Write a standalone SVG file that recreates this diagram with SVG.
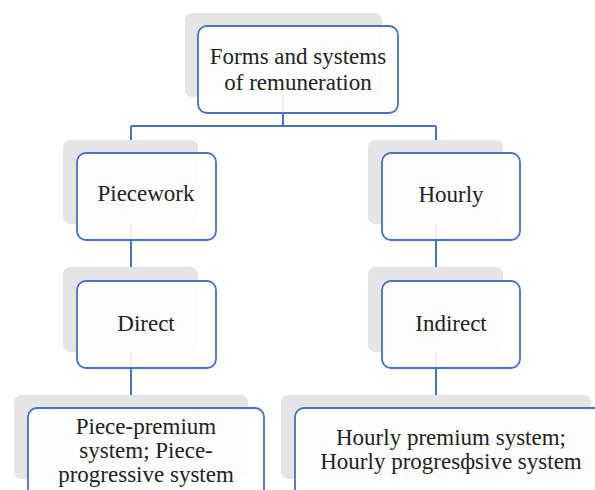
<svg xmlns="http://www.w3.org/2000/svg" width="595" height="490" viewBox="0 0 595 490">
<style>
.sh{fill:#e5e5e5}
.bx{fill:#ffffff;fill-opacity:0.9;stroke:#4472c4;stroke-width:1.8}
.t{font-family:"Liberation Serif","Times New Roman",serif;font-size:23px;fill:#222;text-anchor:middle}
.c{fill:none;stroke:#4472c4;stroke-width:2}
</style>
<rect width="595" height="490" fill="#ffffff"/>
<g id="connectors">
<path class="c" d="M283,97 V126 M131,126 H436 M131,126 V142 M436,126 V142"/>
<path class="c" d="M131,224 V268"/>
<path class="c" d="M436,224 V268"/>
<path class="c" d="M131,352 V396"/>
<path class="c" d="M436,352 V396"/>
</g>
<g id="root">
<rect class="sh" x="185" y="13" width="197" height="84" rx="7"/>
<rect class="bx" x="198" y="26" width="200" height="87" rx="9"/>
<text class="t" x="298" y="64">Forms and systems</text>
<text class="t" x="298" y="90">of remuneration</text>
</g>
<g id="piecework">
<rect class="sh" x="63" y="140" width="135" height="84" rx="7"/>
<rect class="bx" x="77" y="153" width="139" height="87" rx="9"/>
<text class="t" x="146" y="201">Piecework</text>
</g>
<g id="hourly">
<rect class="sh" x="368" y="140" width="135" height="84" rx="7"/>
<rect class="bx" x="382" y="153" width="138" height="87" rx="9"/>
<text class="t" x="451" y="202">Hourly</text>
</g>
<g id="direct">
<rect class="sh" x="63" y="267" width="135" height="85" rx="7"/>
<rect class="bx" x="77" y="281" width="139" height="87" rx="9"/>
<text class="t" x="146" y="331">Direct</text>
</g>
<g id="indirect">
<rect class="sh" x="368" y="267" width="135" height="85" rx="7"/>
<rect class="bx" x="382" y="281" width="138" height="87" rx="9"/>
<text class="t" x="451" y="331">Indirect</text>
</g>
<g id="piece-systems">
<rect class="sh" x="14" y="395" width="234" height="84" rx="7"/>
<rect class="bx" x="28" y="408" width="236" height="100" rx="9"/>
<text class="t" x="146" y="434">Piece-premium</text>
<text class="t" x="146" y="458">system; Piece-</text>
<text class="t" x="146" y="482">progressive system</text>
</g>
<g id="hourly-systems">
<rect class="sh" x="281" y="395" width="310" height="84" rx="7"/>
<rect class="bx" x="295" y="408" width="320" height="100" rx="9"/>
<text class="t" x="451" y="445">Hourly premium system;</text>
<text class="t" x="451" y="469">Hourly progresфsive system</text>
</g>
</svg>
